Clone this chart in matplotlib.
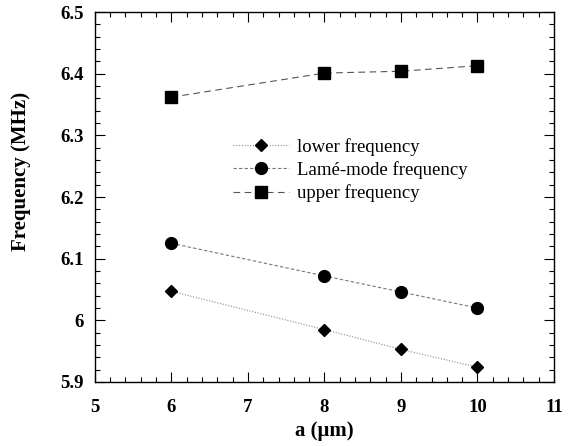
import matplotlib
matplotlib.use("Agg")
import matplotlib.pyplot as plt
from matplotlib.ticker import MultipleLocator

a_um = [6, 8, 9, 10]
lower_freq = [6.047, 5.985, 5.953, 5.924]
lame_freq = [6.125, 6.072, 6.046, 6.020]
upper_freq = [6.362, 6.401, 6.404, 6.413]

labels = ["lower frequency", "Lamé-mode frequency", "upper frequency"]
xticklabels = ["5", "6", "7", "8", "9", "10", "11"]
yticklabels = ["5.9", "6", "6.1", "6.2", "6.3", "6.4", "6.5"]

plt.rcParams['font.family'] = ['Liberation Serif', 'DejaVu Serif']

fig = plt.figure(figsize=(5.75, 4.46), dpi=100)
ax = fig.add_axes([0.165, 0.1435, 0.7985, 0.8295])

ax.plot(a_um, lower_freq, color='#888888', lw=0.8, ls=(0, (1, 1.5)),
        marker='D', ms=6, mfc='black', mec='black', label=labels[0])
ax.plot(a_um, lame_freq, color='#777777', lw=0.8, ls=(0, (3, 2)),
        marker='o', ms=8.5, mfc='black', mec='black', label=labels[1])
ax.plot(a_um, upper_freq, color='#555555', lw=0.8, ls=(0, (6, 4)),
        marker='s', ms=9, mfc='black', mec='black', label=labels[2])

ax.set_xlim(5, 11)
ax.set_ylim(5.9, 6.5)
ax.set_xticks([5, 6, 7, 8, 9, 10, 11])
ax.set_xticklabels(xticklabels)
ax.set_yticks([5.9, 6.0, 6.1, 6.2, 6.3, 6.4, 6.5])
ax.set_yticklabels(yticklabels)
ax.xaxis.set_minor_locator(MultipleLocator(0.2))
ax.yaxis.set_minor_locator(MultipleLocator(0.02))
ax.tick_params(which='both', direction='in', top=True, right=True,
               labelsize=13.5, width=0.8)
ax.tick_params(axis='x', which='major', pad=12)
ax.tick_params(axis='y', which='major', pad=8)
ax.tick_params(which='major', length=7)
ax.tick_params(which='minor', length=3.5)
for lab in ax.get_xticklabels() + ax.get_yticklabels():
    lab.set_fontweight('bold')
for s in ax.spines.values():
    s.set_linewidth(1.0)

ax.set_xlabel("a (μm)", fontsize=15, fontweight='bold', labelpad=4)
ax.set_ylabel("Frequency (MHz)", fontsize=15, fontweight='bold')
ax.yaxis.set_label_coords(-0.139, 0.568)

ax.legend(loc='upper left', bbox_to_anchor=(0.28, 0.685), frameon=False,
          fontsize=13.5, handlelength=3.0, handletextpad=0.4,
          labelspacing=0.28, borderpad=0)

fig.savefig("out.png", dpi=100)
